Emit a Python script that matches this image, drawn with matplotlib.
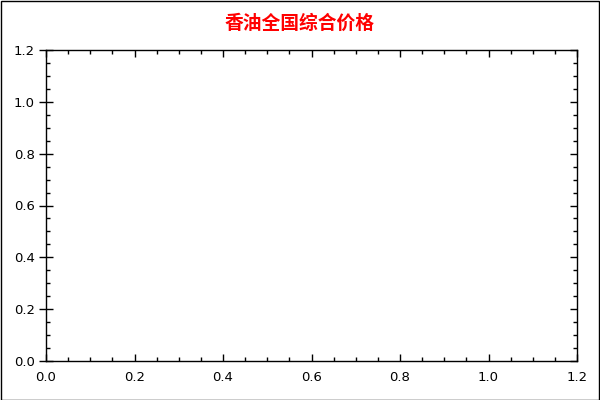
import matplotlib
matplotlib.use("Agg")
import matplotlib.pyplot as plt
from matplotlib.patches import Rectangle
from matplotlib.ticker import MultipleLocator

plt.rcParams['font.family'] = ['DejaVu Sans', 'Noto Sans CJK SC']

title_text = "香油全国综合价格"
x_ticks = [0.0, 0.2, 0.4, 0.6, 0.8, 1.0, 1.2]
y_ticks = [0.0, 0.2, 0.4, 0.6, 0.8, 1.0, 1.2]
x_values = []
y_values = []

fig = plt.figure(figsize=(6, 4), dpi=100)
ax = fig.add_axes([46/600, 1-361/400, 531/600, 311/400])
ax.plot(x_values, y_values)
ax.set_xlim(x_ticks[0], x_ticks[-1])
ax.set_ylim(y_ticks[0], y_ticks[-1])
ax.set_xticks(x_ticks)
ax.set_yticks(y_ticks)
ax.set_xticklabels([f"{v:.1f}" for v in x_ticks])
ax.set_yticklabels([f"{v:.1f}" for v in y_ticks])
ax.xaxis.set_minor_locator(MultipleLocator(0.05))
ax.yaxis.set_minor_locator(MultipleLocator(0.05))
for s in ax.spines.values():
    s.set_linewidth(1.0)
    s.set_color('black')

ax.tick_params(axis='x', which='major', direction='in', length=5, width=1,
               top=True, bottom=True, labelsize=9.5, pad=7)
ax.tick_params(axis='x', which='minor', direction='in', length=3, width=1,
               top=True, bottom=True)
ax.tick_params(axis='y', which='major', direction='inout', length=10, width=1,
               left=True, right=False, labelsize=9.5, pad=3)
ax.tick_params(axis='y', which='minor', direction='in', length=3, width=1,
               left=True, right=False)

ax2 = ax.twinx()
ax2.set_ylim(y_ticks[0], y_ticks[-1])
ax2.set_yticks(y_ticks)
ax2.yaxis.set_minor_locator(MultipleLocator(0.05))
ax2.tick_params(axis='y', which='major', direction='in', length=5, width=1,
                right=True, labelright=False)
ax2.tick_params(axis='y', which='minor', direction='in', length=3, width=1,
                right=True, labelright=False)
for s in ax2.spines.values():
    s.set_visible(False)

fig.text(0.5, 1-23/400, title_text, ha='center', va='center', color='#ff0000',
         fontsize=13.5, fontweight='bold', family=['Noto Sans CJK SC', 'DejaVu Sans'])

fig.patches.append(Rectangle((0.5/600, 0.5/400), 598.5/600, 398.5/400,
                             transform=fig.transFigure, fill=False,
                             edgecolor='black', linewidth=1.0))

fig.savefig("out.png", dpi=100)
